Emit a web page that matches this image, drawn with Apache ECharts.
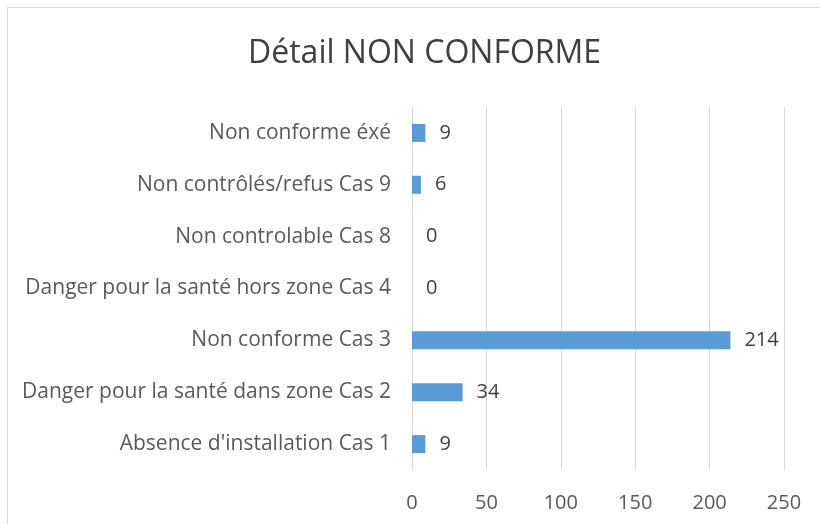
<!DOCTYPE html>
<html><head><meta charset="utf-8">
<script src="https://cdn.jsdelivr.net/npm/echarts@6/dist/echarts.min.js"></script>
<style>html,body{margin:0;padding:0;background:#fff}#c{width:820px;height:524px}
#frame{position:absolute;left:7px;top:7px;width:900px;height:600px;border:1px solid #d9d9d9;box-sizing:border-box;pointer-events:none}</style>
</head><body><div id="c"></div><div id="frame"></div>
<script>
const titleText = "Détail NON CONFORME";
const categories = [
  "Absence d'installation Cas 1",
  "Danger pour la santé dans zone Cas 2",
  "Non conforme Cas 3",
  "Danger pour la santé hors zone Cas 4",
  "Non controlable Cas 8",
  "Non contrôlés/refus Cas 9",
  "Non conforme éxé"
];
const values = [9, 34, 214, 0, 0, 6, 9];
const xTicks = { min: 0, max: 250, interval: 50 };

const chart = echarts.init(document.getElementById('c'));
chart.setOption({
  animation: false,
  title: { text: titleText, left: 243, top: 33,
    textStyle: { fontFamily: 'Open Sans', fontWeight: 'normal', fontSize: 32, color: '#404040' } },
  grid: { left: 412, right: 36, top: 107, bottom: 54 },
  xAxis: { type: 'value', min: xTicks.min, max: xTicks.max, interval: xTicks.interval,
    axisLine: { show: false }, axisTick: { show: false },
    splitLine: { lineStyle: { color: '#d9d9d9', width: 1 } },
    axisLabel: { fontFamily: 'Open Sans', fontSize: 20, color: '#595959', margin: 23 } },
  yAxis: { type: 'category', data: categories,
    axisLine: { show: true, lineStyle: { color: '#d9d9d9' } }, axisTick: { show: false },
    axisLabel: { fontFamily: 'Open Sans', fontSize: 21, color: '#595959', margin: 21 } },
  series: [{ type: 'bar', data: values, barWidth: 18,
    itemStyle: { color: '#5B9BD5' },
    label: { show: true, position: 'right', distance: 14, fontFamily: 'Open Sans', fontSize: 20, color: '#404040' } }]
});
</script></body></html>
